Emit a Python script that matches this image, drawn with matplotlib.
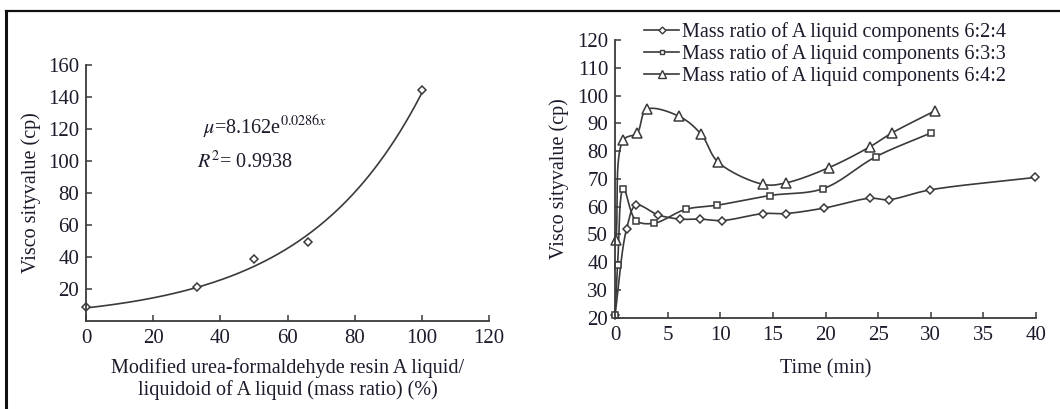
import numpy as np
import matplotlib
matplotlib.use("Agg")
import matplotlib.pyplot as plt
from matplotlib.lines import Line2D

# ---------------- data ----------------
# Left chart: ratio (%) vs viscosity (cp)
ratio_pct = [0, 33, 50, 66, 100]
visc_left = [8.5, 21.5, 39, 49.5, 144.5]
fit_a = 8.162
fit_b = 0.0286
r_squared = "0.9938"

# Right chart: time (min) vs viscosity (cp)
t_624 = [0, 1.1, 2.0, 4.1, 6.2, 8.1, 10.2, 14.1, 16.2, 19.9, 24.2, 26.0, 29.9, 39.9]
v_624 = [21, 52, 60.5, 57, 55.5, 55.5, 55, 57.5, 57.5, 59.5, 63, 62.5, 66, 70.5]

t_633 = [0, 0.25, 0.8, 2.0, 3.7, 6.7, 9.7, 14.7, 19.8, 24.8, 30.0]
v_633 = [21, 39, 66.5, 55, 54, 59, 60.5, 64, 66.5, 78, 86.5]

t_642 = [0.1, 0.8, 2.1, 3.0, 6.1, 8.2, 9.8, 14.1, 16.2, 20.3, 24.2, 26.3, 30.4]
v_642 = [48, 84, 86.5, 95, 92.5, 86, 76, 68, 68.5, 74, 81.5, 86.5, 94.5]

legend_labels = ["Mass ratio of A liquid components 6:2:4",
                 "Mass ratio of A liquid components 6:3:3",
                 "Mass ratio of A liquid components 6:4:2"]

left_xticks = [0, 20, 40, 60, 80, 100, 120]
left_yticks = [20, 40, 60, 80, 100, 120, 140, 160]
right_xticks = [0, 5, 10, 15, 20, 25, 30, 35, 40]
right_yticks = [20, 30, 40, 50, 60, 70, 80, 90, 100, 110, 120]

# ---------------- style ----------------
plt.rcParams['font.family'] = ['Liberation Serif', 'DejaVu Serif']
plt.rcParams['mathtext.fontset'] = 'stix'
TXT = '#1b1b2b'
LC = '#3a3a3a'
FT = 15     # tick labels
FL = 14.5   # axis labels / legend


def smooth(xs, ys, sx, sy, n=30, alpha=0.5):
    """Centripetal Catmull-Rom curve through the given points (drawing only)."""
    P = np.column_stack([np.asarray(xs, float) / sx, np.asarray(ys, float) / sy])
    P = np.vstack([2 * P[0] - P[1], P, 2 * P[-1] - P[-2]])
    out = []
    for i in range(1, len(P) - 2):
        p0, p1, p2, p3 = P[i - 1], P[i], P[i + 1], P[i + 2]
        t0 = 0.0
        t1 = t0 + max(np.linalg.norm(p1 - p0), 1e-6) ** alpha
        t2 = t1 + max(np.linalg.norm(p2 - p1), 1e-6) ** alpha
        t3 = t2 + max(np.linalg.norm(p3 - p2), 1e-6) ** alpha
        t = np.linspace(t1, t2, n, endpoint=False)[:, None]
        a1 = (t1 - t) / (t1 - t0) * p0 + (t - t0) / (t1 - t0) * p1
        a2 = (t2 - t) / (t2 - t1) * p1 + (t - t1) / (t2 - t1) * p2
        a3 = (t3 - t) / (t3 - t2) * p2 + (t - t2) / (t3 - t2) * p3
        b1 = (t2 - t) / (t2 - t0) * a1 + (t - t0) / (t2 - t0) * a2
        b2 = (t3 - t) / (t3 - t1) * a2 + (t - t1) / (t3 - t1) * a3
        c = (t2 - t) / (t2 - t1) * b1 + (t - t1) / (t2 - t1) * b2
        out.append(c)
    out.append(P[-2][None, :])
    c = np.vstack(out)
    return c[:, 0] * sx, c[:, 1] * sy


fig = plt.figure(figsize=(10.6, 4.09), dpi=100)

# frame lines of the figure
fig.add_artist(Line2D([6 / 1060, 1.0], [1 - 11 / 409, 1 - 11 / 409], color='#111111', lw=1.6,
                      transform=fig.transFigure))
fig.add_artist(Line2D([6 / 1060, 6 / 1060], [0, 1 - 11 / 409], color='#111111', lw=2.2,
                      transform=fig.transFigure))


def style_axes(ax):
    for s in ['top', 'right']:
        ax.spines[s].set_visible(False)
    for s in ['left', 'bottom']:
        ax.spines[s].set_color(LC)
        ax.spines[s].set_linewidth(1.3)
    ax.tick_params(direction='in', length=4, width=1.1, color=LC, labelsize=FT,
                   labelcolor=TXT)
    ax.tick_params(axis='x', pad=6)
    ax.tick_params(axis='y', pad=5)


# ---------------- left chart ----------------
axL = fig.add_axes([86 / 1060, 1 - 321 / 409, 403 / 1060, 256 / 409])
style_axes(axL)
xf = np.linspace(0, 100, 200)
axL.plot(xf, fit_a * np.exp(fit_b * xf), color=LC, lw=1.2)
axL.plot(ratio_pct, visc_left, linestyle='none', marker='D', ms=4.5, mfc='white',
         mec=LC, mew=1.1, clip_on=False)
axL.set_xlim(0, 120)
axL.set_ylim(0, 160)
axL.set_xticks(left_xticks)
axL.set_yticks(left_yticks)
axL.set_xticklabels([str(v) for v in left_xticks])
axL.set_ylabel("Visco sityvalue (cp)", fontsize=FL, color=TXT, labelpad=5)
axL.set_xlabel("Modified urea-formaldehyde resin A liquid/\nliquidoid of A liquid (mass ratio) (%)",
               fontsize=FL, color=TXT, labelpad=7, linespacing=1.15)
axL.text(0.29, 0.755, r"$\mu$=8.162e$^{0.0286x}$", transform=axL.transAxes,
         fontsize=FL, color=TXT, va='center')
axL.text(0.275, 0.62, r"$R^2$= " + r_squared, transform=axL.transAxes,
         fontsize=FL, color=TXT, va='center')

# ---------------- right chart ----------------
axR = fig.add_axes([615 / 1060, 1 - 317.7 / 409, 421 / 1060, 277.7 / 409])
style_axes(axR)
series = [(t_624, v_624, 'D', 4.5), (t_633, v_633, 's', 4.5), (t_642, v_642, '^', 6.5)]
handles = []
for (tx, vy, mk, ms), lab in zip(series, legend_labels):
    sx, sy = smooth(tx, vy, 1.0, 3.78)
    axR.plot(sx, sy, color=LC, lw=1.2, clip_on=False)
    axR.plot(tx, vy, linestyle='none', marker=mk, ms=ms, mfc='white', mec=LC, mew=1.1,
             clip_on=False)
    handles.append(Line2D([0], [0], color=LC, lw=1.2, marker=mk, ms=ms - 1, mfc='white',
                          mec=LC, mew=1.0))
axR.set_xlim(0, 40)
axR.set_ylim(20, 120)
axR.set_xticks(right_xticks)
axR.set_yticks(right_yticks)
axR.set_ylabel("Visco sityvalue (cp)", fontsize=FL, color=TXT, labelpad=6)
axR.set_xlabel("Time (min)", fontsize=FL, color=TXT, labelpad=10)
leg = axR.legend(handles, legend_labels, loc='upper left', bbox_to_anchor=(0.05, 1.092),
                 frameon=False, fontsize=FL, handlelength=1.75, handletextpad=0.15,
                 labelspacing=0.1, borderaxespad=0)
for t in leg.get_texts():
    t.set_color(TXT)

fig.savefig("out.png", dpi=100)
